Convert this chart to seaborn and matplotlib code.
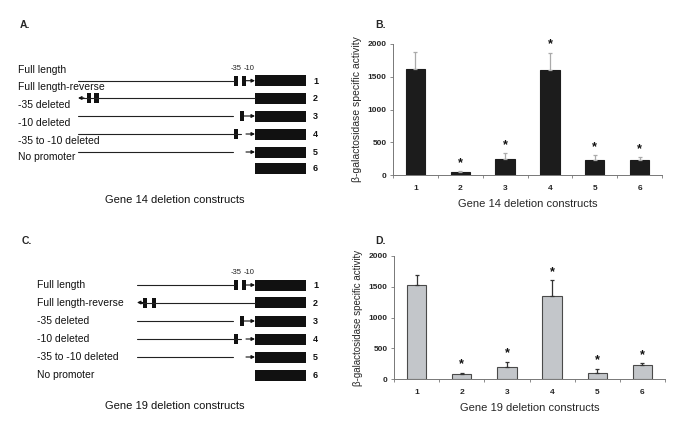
import matplotlib
matplotlib.use("Agg")
import matplotlib.pyplot as plt
import seaborn as sns
import pandas as pd
from matplotlib.patches import Rectangle

sns.set_theme(style="white")
plt.rcParams['font.family'] = ['Liberation Sans', 'DejaVu Sans']

# ---------------- data ----------------
constructs = ["1", "2", "3", "4", "5", "6"]
gene14_activity = [1620, 40, 250, 1605, 225, 235]
gene14_error = [255, 15, 80, 260, 75, 35]
gene14_signif = [False, True, True, True, True, True]

gene19_activity = [1525, 80, 195, 1355, 95, 220]
gene19_error = [170, 25, 85, 255, 75, 40]
gene19_signif = [False, True, True, True, True, True]

construct_names = ["Full length", "Full length-reverse", "-35 deleted",
                   "-10 deleted", "-35 to -10 deleted", "No promoter"]
yticks = [0, 500, 1000, 1500, 2000]
ylabel = "β-galactosidase specific activity"
xlabel14 = "Gene 14 deletion constructs"
xlabel19 = "Gene 19 deletion constructs"

W, H = 685, 432
fig = plt.figure(figsize=(W / 100, H / 100), dpi=100)

# background axis in pixel coordinates for the schematic diagrams
bg = fig.add_axes([0, 0, 1, 1])
bg.set_xlim(0, W)
bg.set_ylim(H, 0)
bg.axis("off")


def px_axes(left, top, right, bottom):
    return fig.add_axes([left / W, (H - bottom) / H, (right - left) / W, (bottom - top) / H])


def bar_panel(ax, vals, errs, signif, color, edge, ecolor, xlabel, ylab_size):
    df = pd.DataFrame({"construct": constructs, "activity": vals})
    sns.barplot(data=df, x="construct", y="activity", color=color, edgecolor=edge,
                linewidth=0.8, width=0.43, saturation=1, ax=ax, errorbar=None)
    pos = list(range(len(constructs)))
    ax.errorbar(pos, vals, yerr=[[0] * len(vals), errs], fmt="none",
                ecolor=ecolor, elinewidth=0.9, capsize=1.6, capthick=0.9)
    for p, v, e, s in zip(pos, vals, errs, signif):
        if s:
            ax.text(p, v + e + 35, "*", ha="center", va="bottom", fontsize=9,
                    fontweight="bold", color="#111")
    ax.set_ylim(0, 2000)
    ax.set_xlim(-0.5, len(constructs) - 0.5)
    ax.set_yticks(yticks)
    ax.set_yticklabels([str(t) for t in yticks], fontsize=6, fontweight="bold")
    ax.set_xticks(pos)
    ax.set_xticklabels(constructs, fontsize=6, fontweight="bold")
    ax.set_xticks([p - 0.5 for p in pos] + [len(pos) - 0.5], minor=True)
    ax.tick_params(axis="x", which="major", length=0, pad=7)
    ax.tick_params(axis="x", which="minor", length=2.5, width=0.6, color="#777", direction="out", bottom=True)
    ax.tick_params(axis="y", length=2.5, width=0.6, color="#777", direction="out", left=True, pad=2)
    for s in ["top", "right"]:
        ax.spines[s].set_visible(False)
    for s in ["left", "bottom"]:
        ax.spines[s].set_color("#777")
        ax.spines[s].set_linewidth(0.7)
    ax.set_xlabel(xlabel, fontsize=8, labelpad=5)
    ax.set_ylabel(ylabel, fontsize=ylab_size, labelpad=4)
    ax.grid(False)


axB = px_axes(393, 44, 662, 175)
bar_panel(axB, gene14_activity, gene14_error, gene14_signif, "#1c1c1c", "#1c1c1c", "#aaaaaa",
          xlabel14, 7.5)
axD = px_axes(394, 256, 665, 379)
bar_panel(axD, gene19_activity, gene19_error, gene19_signif, "#c3c6ca", "#4a4a4a", "#333333",
          xlabel19, 7)

# panel letters
for letter, (x, y) in {"A.": (20, 25), "B.": (375, 25), "C.": (22, 241), "D.": (375, 241)}.items():
    bg.text(x, y, letter, fontsize=7.5, fontweight="bold", va="center", ha="left")


# ---------------- schematic diagrams ----------------
def arrow(x0, x1, y):
    bg.annotate("", xy=(x1, y), xytext=(x0, y),
                arrowprops=dict(arrowstyle="-|>", lw=0.8, color="#111", mutation_scale=5,
                                shrinkA=0, shrinkB=0))


def pbox(x, y):
    bg.add_patch(Rectangle((x, y - 5), 4.2, 10, color="#111", lw=0))


def diagram(label_x, label_dy, line_x, rows_y, title, title_y, header_y, rev_boxes):
    rect_l, rect_r = 255, 306
    b35, b10 = 234.3, 241.7
    for i, (name, y) in enumerate(zip(construct_names, rows_y)):
        bg.text(label_x, y + label_dy, name, fontsize=7.5, va="center", ha="left", color="#111")
        bg.add_patch(Rectangle((rect_l, y - 5.5), rect_r - rect_l, 11, color="#111", lw=0))
        bg.text(rect_r + 7, y + 0.5, str(i + 1), fontsize=6.5, va="center", ha="left",
                fontweight="bold", color="#111")
    lk = dict(color="#222", lw=0.8)
    # row 1: full length
    y = rows_y[0]
    bg.plot([line_x, b35], [y, y], **lk)
    pbox(b35, y); pbox(b10, y)
    arrow(b10 + 4, rect_l, y)
    bg.text(b35 + 2, header_y, "-35", fontsize=5.5, ha="center", va="center", color="#222")
    bg.text(b10 + 7, header_y, "-10", fontsize=5.5, ha="center", va="center", color="#222")
    # row 2: reverse
    y = rows_y[1]
    bg.plot([line_x + 3, rect_l], [y, y], **lk)
    arrow(line_x + 6, line_x, y)
    pbox(line_x + rev_boxes[0], y); pbox(line_x + rev_boxes[1], y)
    # row 3: -35 deleted
    y = rows_y[2]
    bg.plot([line_x, 233], [y, y], **lk)
    pbox(240, y)
    arrow(244, rect_l, y)
    # row 4: -10 deleted
    y = rows_y[3]
    bg.plot([line_x, 241], [y, y], **lk)
    pbox(b35, y)
    arrow(246, rect_l, y)
    # row 5: -35 to -10 deleted
    y = rows_y[4]
    bg.plot([line_x, 233], [y, y], **lk)
    arrow(246, rect_l, y)
    bg.text(175, title_y, title, fontsize=8, ha="center", va="center", color="#111")


diagram(18, -11, 78, [80.7, 98, 116, 134, 152, 168], xlabel14, 200, 68, (9, 16.5))
diagram(37, 0, 137, [285, 302.5, 321, 339, 357, 375], xlabel19, 406, 273, (6, 14.7))

fig.savefig("out.png", dpi=100)
